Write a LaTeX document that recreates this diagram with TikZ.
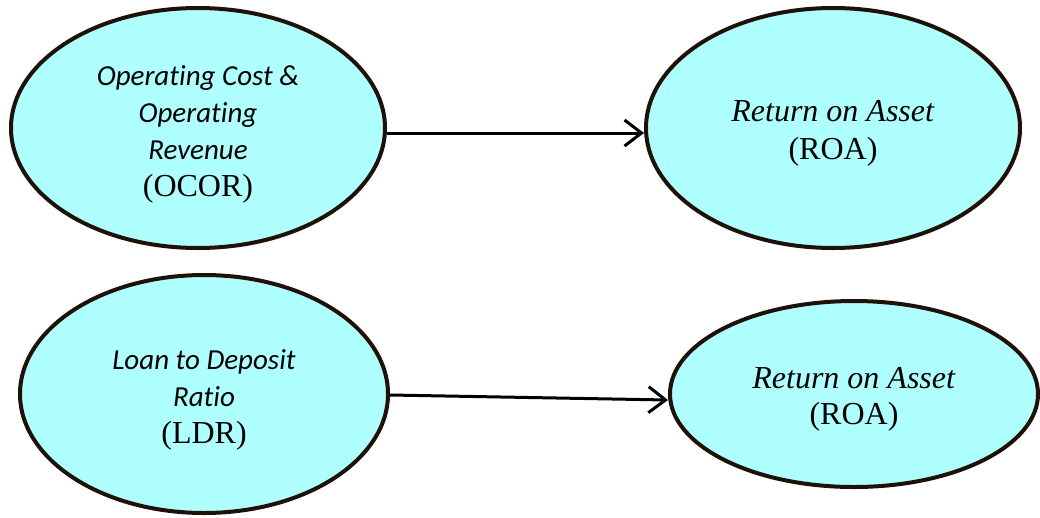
\documentclass[tikz,border=0pt]{standalone}
\usepackage{fontspec}
\setmainfont{Liberation Serif}
\newfontfamily\calibri[Ligatures=NoCommon]{Carlito}
\usetikzlibrary{arrows.meta,shapes.geometric}

\definecolor{ovalfill}{RGB}{175,255,255}
\definecolor{ovalline}{RGB}{30,18,8}

\newcommand{\sanstext}[1]{{\calibri\itshape\fontsize{29}{36}\selectfont #1}}
\newcommand{\topstrut}{\rule{0pt}{32pt}}

\begin{document}
\begin{tikzpicture}[x=1pt,y=-1pt,
   oval/.style={ellipse,draw=ovalline,fill=ovalfill,line width=4pt,inner sep=0pt,align=center,
     font=\fontsize{32}{37}\selectfont},
   link/.style={line width=3pt,-{Straight Barb[length=17pt,width=26pt,line width=3pt]}}]
   \useasboundingbox (0,0) rectangle (1040,517);
   \node[oval,minimum width=374pt,minimum height=240pt] (ocor) at (198,128)
     {\topstrut\sanstext{Operating Cost \&}\\
      \sanstext{Operating}\\
      \sanstext{Revenue}\\
      (OCOR)};
   \node[oval,minimum width=374pt,minimum height=240pt,font=\fontsize{32}{38}\selectfont] (roa1) at (833,128)
     {\topstrut\textit{Return on Asset}\\(ROA)};
   \node[oval,minimum width=368pt,minimum height=238pt] (ldr) at (204,394)
     {\topstrut\sanstext{Loan to Deposit}\\
      \sanstext{Ratio}\\
      (LDR)};
   \node[oval,minimum width=368pt,minimum height=186pt,font=\fontsize{32}{36}\selectfont] (roa2) at (854,394)
     {\topstrut\textit{Return on Asset}\\(ROA)};
   % arrows
   \draw[link] ([yshift=-5pt]ocor.east) -- ([yshift=-5pt]roa1.west);
   \draw[link] ([yshift=-1pt]ldr.east) -- ([yshift=-6pt]roa2.west);
\end{tikzpicture}
\end{document}
